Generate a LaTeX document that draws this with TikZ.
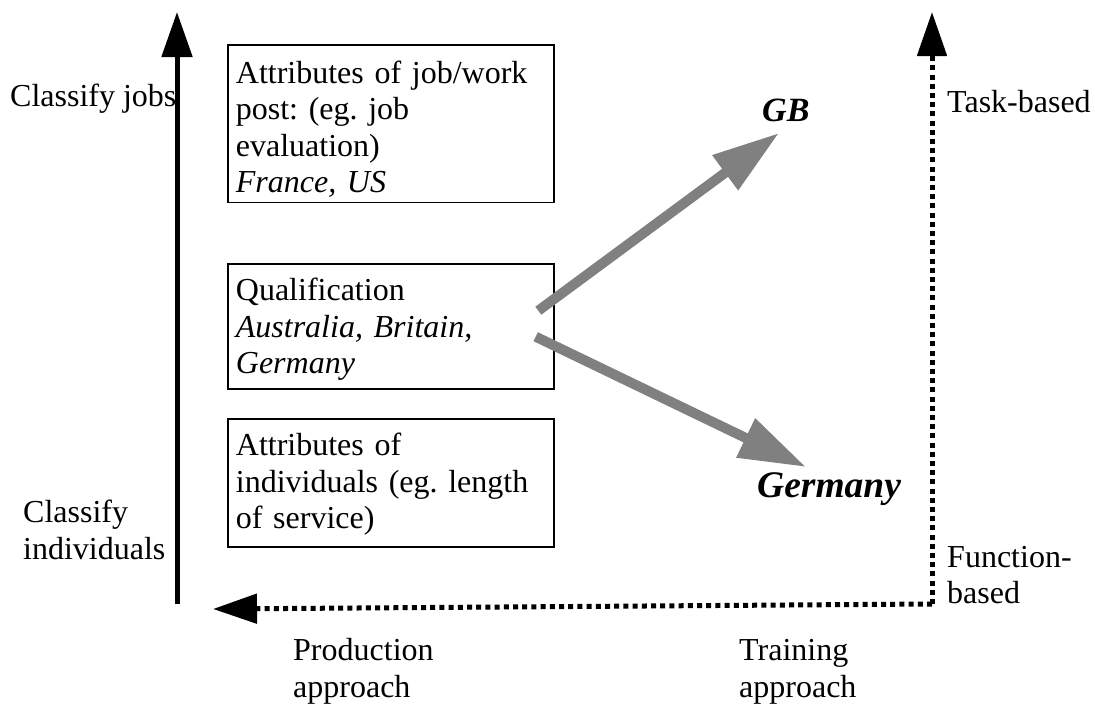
\documentclass[tikz,border=0pt]{standalone}
\usepackage{fontspec}
\setmainfont{Liberation Serif}
\usetikzlibrary{arrows.meta}

\begin{document}
\frenchspacing
\begin{tikzpicture}[x=1pt, y=-1pt,
  txt/.style={inner sep=0pt, font=\fontsize{32}{36.5}\selectfont, align=left},
  box/.style={draw, line width=1.8pt, anchor=north west, inner xsep=8pt, inner ysep=0pt,
    text width=310pt, align=left, font=\fontsize{32}{36.5}\selectfont},
  country/.style={inner sep=0pt, anchor=base west},
  axis/.style={line width=5pt, -{Triangle[length=45pt, width=30pt]}},
  dotaxis/.style={line width=5pt, dash pattern=on 5pt off 4.2pt, -{Triangle[length=44pt, width=29pt]}},
  trend/.style={line width=10pt, color=black!50, -{Triangle[length=67pt, width=41pt]}}]
\useasboundingbox (0,0) rectangle (1095,707);

% classification boxes
\node[box] (jobs) at (227,44)
  {\rule{0pt}{38.5pt}Attributes of job/work\\post: (eg. job\\evaluation)\\\textit{France, US}\rule[-9.5pt]{0pt}{9.5pt}};
\node[box] (qual) at (227,263)
  {\rule{0pt}{37pt}Qualification\\\textit{Australia, Britain,}\\\textit{Germany}\rule[-15pt]{0pt}{15pt}};
\node[box] (indiv) at (227,418)
  {\rule{0pt}{37pt}Attributes of\\individuals (eg. length\\of service)\rule[-18pt]{0pt}{18pt}};

% axis labels
\node[txt, anchor=base west] (cjobs) at (10,106) {Classify jobs};
\node[txt, anchor=north west] (cind) at (23,497) {\strut Classify\\individuals};
\node[txt, anchor=base west] (task) at (947,112) {Task-based};
\node[txt, anchor=north west] (func) at (947,541.5) {\strut Function-\\based};
\node[txt, anchor=north west] (prod) at (293,635) {\strut Production\\approach};
\node[txt, anchor=north west] (train) at (739,635) {\strut Training\\approach};

% country outcomes
\node[country, font=\fontsize{34}{40}\selectfont\bfseries\itshape] (gb) at (762,121) {GB};
\node[country, font=\fontsize{37.5}{44}\selectfont\bfseries\itshape] (de) at (757,497) {Germany};

% axes
\coordinate (ybot) at (177,604);
\coordinate (ytop) at (177,12);
\coordinate (corner) at (932,604);
\coordinate (rtop) at (932,12);
\coordinate (ltip) at (213,609);
\draw[axis] (ybot) -- (ytop);
\draw[dotaxis] (corner) -- (rtop);
\draw[dotaxis] (corner) -- (ltip);

% trends from qualification
\coordinate (qa) at (538.3,310.7);
\coordinate (gbtip) at (779,133);
\coordinate (qb) at (535.7,336.7);
\coordinate (detip) at (806,467);
\draw[trend] (qa) -- (gbtip);
\draw[trend] (qb) -- (detip);
\end{tikzpicture}
\end{document}
